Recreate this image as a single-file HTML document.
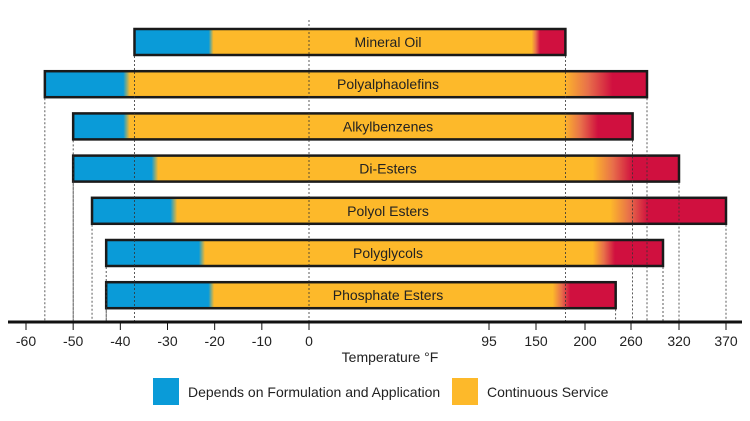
<!DOCTYPE html>
<html><head><meta charset="utf-8"><style>
body{margin:0;background:#fff}
svg{display:block;font-family:"Liberation Sans",sans-serif}
</style></head><body>
<svg id="chart" width="750" height="421" viewBox="0 0 750 421" xmlns="http://www.w3.org/2000/svg">
<defs id="defs"></defs>
<g id="bars"></g>
<g id="guides"></g>
<g id="axis"></g>
<text x="390" y="362" text-anchor="middle" font-size="14" fill="#222">Temperature °F</text>
<rect x="153" y="378" width="26" height="27" fill="#0a9bd8"/>
<text x="188" y="397" font-size="14" fill="#222">Depends on Formulation and Application</text>
<rect x="452" y="378" width="26" height="27" fill="#fdb92a"/>
<text x="487" y="397" font-size="14" fill="#222">Continuous Service</text>
</svg>
<script>
const categories = ["Mineral Oil","Polyalphaolefins","Alkylbenzenes","Di-Esters","Polyol Esters","Polyglycols","Phosphate Esters"];
const minTemp = [-37,-56,-50,-50,-46,-43,-43];
const formulationEnd = [-21,-39,-39,-33,-29,-23,-21];
const continuousEnd = [145,178,178,210,233,210,167];
const degradeStart = [154,236,217,262,281,239,185];
const maxTemp = [180,280,262,320,370,300,240];
const tickLabels = [-60,-50,-40,-30,-20,-10,0,95,150,200,260,320,370];
// piecewise axis breakpoints (scale configuration)
const dom = [-60,0,95,150,200,260,320,370];
const rng = [26,309,489,536,585,631,679,726];
function xs(v){
  if(v<=dom[0]) return rng[0]+(v-dom[0])*(rng[1]-rng[0])/(dom[1]-dom[0]);
  for(let i=0;i<dom.length-1;i++){
    if(v<=dom[i+1]) return rng[i]+(v-dom[i])*(rng[i+1]-rng[i])/(dom[i+1]-dom[i]);
  }
  const n=dom.length-1;
  return rng[n]+(v-dom[n])*(rng[n]-rng[n-1])/(dom[n]-dom[n-1]);
}
const NS="http://www.w3.org/2000/svg";
const defs=document.getElementById('defs'), bars=document.getElementById('bars'),
      guides=document.getElementById('guides'), axis=document.getElementById('axis');
const top0=29, step=42.2, bh=26, axisY=322;
function mk(tag,attrs,parent){const e=document.createElementNS(NS,tag);for(const k in attrs)e.setAttribute(k,attrs[k]);parent.appendChild(e);return e;}
// center zero line
const zl=mk('line',{x1:xs(0),x2:xs(0),y1:20,y2:axisY,stroke:'#333','stroke-width':0.8,'stroke-dasharray':'2,2'},guides);


categories.forEach((c,i)=>{
  const y=top0+i*step, x0=xs(minTemp[i]), x1=xs(maxTemp[i]);
  const g=mk('linearGradient',{id:'g'+i,gradientUnits:'userSpaceOnUse',x1:x0,x2:x1,y1:0,y2:0},defs);
  const W=x1-x0, f=v=>Math.max(0,Math.min(1,(xs(v)-x0)/W));
  const fb=f(formulationEnd[i]);
  [[0,'#0a9bd8'],[fb-0.003,'#0a9bd8'],[fb+0.008,'#fdb92a'],[f(continuousEnd[i]),'#fdb92a'],
   [(f(continuousEnd[i])+f(degradeStart[i]))/2,'#e8704a'],[f(degradeStart[i]),'#d0103f'],[1,'#d0103f']]
   .forEach(s=>mk('stop',{offset:s[0],'stop-color':s[1]},g));
  const r=mk('rect',{x:x0,y:y,width:W,height:bh,fill:'url(#g'+i+')',stroke:'#1a1a1a','stroke-width':2.5},bars);
  
  
  const t=mk('text',{x:388,y:y+18,'text-anchor':'middle','font-size':14,fill:'#222'},bars);
  t.textContent=c;
  
  
  [x0,x1].forEach(xx=>{
    const l=mk('line',{x1:xx,x2:xx,y1:y+bh+1,y2:axisY,stroke:'#333','stroke-width':0.8,'stroke-dasharray':'2,2'},guides);
    
    
  });
});
const al=mk('line',{x1:8,x2:742,y1:axisY,y2:axisY,stroke:'#111','stroke-width':3},axis);


tickLabels.forEach(v=>{
  const x=xs(v);
  const tk=mk('line',{x1:x,x2:x,y1:axisY,y2:axisY+8,stroke:'#111','stroke-width':1},axis);
  
  
  const t=mk('text',{x:x,y:346,'text-anchor':'middle','font-size':14,fill:'#222'},axis);
  t.textContent=v;
  
  
});
</script>
</body></html>
